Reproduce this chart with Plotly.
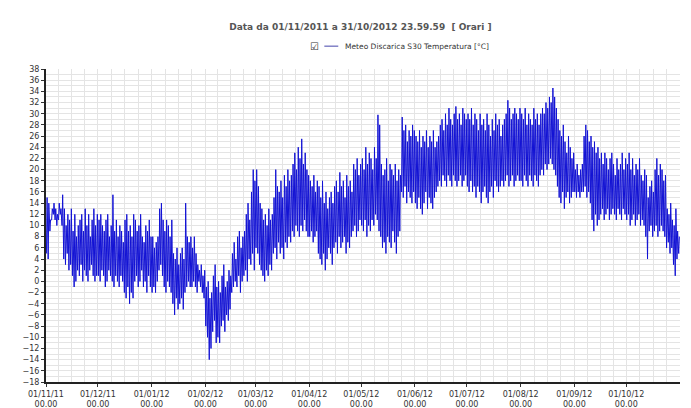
import datetime as dt
import plotly.graph_objects as go

# daily min / max temperature, one month per list
nov11_max = [15, 14, 11, 13, 14, 13, 12, 14, 13, 15.5, 13, 10, 12, 11, 13, 9, 12, 8, 10, 11, 12, 9, 13, 10, 12, 8, 11, 13, 10, 12]
nov11_min = [5, 4, 9, 11, 12, 11, 10, 11, 12, 10, 4, 3, 5, 2, 3, 1, -1, 0, 2, 1, 3, 0, 2, 1, 0, 2, 3, 1, 0, 1]
dec11_max = [11, 12, 10, 9, 11, 12, 8, 10, 15.5, 9, 11, 8, 10, 9, 7, 11, 12, 9, 10, 8, 12, 11, 9, 10, 12, 8, 7, 10, 9, 11, 8]
dec11_min = [1, 0, 2, 1, -1, 0, 2, 1, 0, -1, 1, 0, -1, 1, 0, -2, -3, -1, -4, -2, -3, 0, 1, -1, 0, 2, -1, 0, -2, 1, -1]
jan12_max = [8, 6, 7, 8, 13, 14, 11, 9, 11, 10, 8, 11, 5, 4, 6, 3, 5, 6, 4, 14, 8, 7, 8, 6, 8, 5, 3, 2, 3, 1, 2]
jan12_min = [-2, -1, -2, 0, 2, 3, 1, -1, -2, 0, -1, -2, -4, -6, -3, -5, -4, -3, -5, -2, -1, 0, -1, -1, 0, -1, -2, 0, -1, -2, -3]
feb12_max = [-1, 0, -3, -2, 1, 3, -1, 0, -2, 1, 3, -1, 0, 2, 1, 5, 7, 4, 8, 9, 6, 8, 9, 12, 14, 11, 16, 20, 18]
feb12_min = [-8, -10, -14, -12, -9, -7, -11, -10, -11, -8, -7, -9, -6, -7, -5, -2, -1, 0, -1, 1, -2, 0, 1, 2, 0, 4, 3, 5, 2]
mar12_max = [20, 17, 14, 13, 11, 12, 10, 13, 11, 12, 15, 20, 17, 16, 18, 15, 19, 17, 20, 18, 19, 21, 23, 20, 24, 22, 25.5, 21, 23, 20, 19]
mar12_min = [6, 5, 3, 2, 1, 0, 2, 1, 3, 2, 5, 6, 4, 7, 5, 6, 4, 7, 6, 8, 7, 9, 8, 10, 9, 8, 10, 9, 11, 9, 8]
apr12_max = [18, 17, 19, 16, 18, 17, 15, 18, 14, 16, 13, 15, 16, 14, 17, 18, 16, 19.5, 17, 18, 15, 19, 17, 18, 16, 21, 20, 22, 19, 21]
apr12_min = [8, 9, 7, 8, 9, 5, 4, 3, 5, 2, 4, 6, 5, 3, 6, 7, 5, 8, 6, 7, 8, 5, 7, 6, 8, 9, 10, 8, 9, 11]
may12_max = [22, 20, 24, 21, 23, 22, 20, 24, 22, 29.8, 28, 21, 19, 20, 22, 18, 21, 20, 19, 21, 18, 20, 19, 29.4, 27, 28, 25, 27, 26, 28, 27]
may12_min = [10, 9, 11, 8, 10, 9, 11, 10, 12, 11, 9, 8, 6, 7, 5, 8, 7, 6, 9, 7, 5, 8, 9, 16, 15, 17, 14, 16, 15, 14, 16]
jun12_max = [26, 25, 27, 24, 26, 25, 27, 24, 26, 25, 27, 24, 25, 26, 28, 29, 27, 30, 28, 31, 29, 28, 30, 31.3, 29, 30, 28, 31, 30, 29]
jun12_min = [14, 13, 15, 13, 12, 14, 16, 13, 15, 14, 13, 15, 16, 17, 18, 17, 19, 18, 17, 19, 18, 17, 19, 18, 17, 18, 19, 17, 18, 19]
jul12_max = [30, 29, 31, 28, 30, 29, 27, 30, 28, 29, 27, 30, 28, 26, 29, 27, 30, 28, 29, 26, 28, 29, 30, 32.4, 31, 29, 30, 31, 30, 29, 31]
jul12_min = [17, 16, 18, 16, 17, 15, 17, 16, 14, 16, 17, 15, 14, 16, 17, 15, 18, 17, 16, 17, 18, 17, 18, 19, 17, 18, 19, 17, 18, 19, 18]
aug12_max = [30, 29, 31, 28, 30, 29, 28, 31, 29, 30, 28, 30, 31, 30, 32, 31, 33, 32, 34.6, 33, 31, 29, 27, 26, 28, 25, 23, 26, 24, 22, 23]
aug12_min = [18, 17, 19, 18, 17, 19, 18, 17, 19, 18, 17, 19, 20, 19, 21, 20, 21, 22, 21, 20, 19, 17, 15, 14, 16, 13, 15, 16, 14, 15, 16]
sep12_max = [20, 21, 19, 20, 21, 26, 28, 27, 25, 26, 24, 25, 23, 24, 22, 23, 21, 23, 22, 20, 22, 23, 21, 19, 22, 20, 21, 23, 20, 22]
sep12_min = [16, 15, 16, 15, 16, 16, 17, 15, 16, 14, 11, 9, 12, 10, 11, 12, 13, 11, 12, 13, 11, 12, 13, 12, 11, 13, 12, 11, 13, 12]
oct12_max = [21, 23, 20, 22, 19, 21, 20, 22, 19, 18, 20, 19, 15, 17, 18, 16, 20, 22, 19, 21, 20, 18, 19, 13, 12, 14, 11, 10, 13, 9, 8]
oct12_min = [11, 12, 10, 11, 12, 10, 11, 12, 10, 11, 10, 8, 4, 9, 10, 8, 9, 10, 8, 9, 10, 9, 8, 6, 7, 5, 6, 3, 1, 4, 5]

month_starts = ["2011-11-01", "2011-12-01", "2012-01-01", "2012-02-01", "2012-03-01", "2012-04-01",
                "2012-05-01", "2012-06-01", "2012-07-01", "2012-08-01", "2012-09-01", "2012-10-01"]
month_labels = ["01/11/11", "01/12/11", "01/01/12", "01/02/12", "01/03/12", "01/04/12",
                "01/05/12", "01/06/12", "01/07/12", "01/08/12", "01/09/12", "01/10/12"]
series_name = "Meteo Discarica S30 Temperatura [°C]"

daily_max = (nov11_max + dec11_max + jan12_max + feb12_max + mar12_max + apr12_max +
             may12_max + jun12_max + jul12_max + aug12_max + sep12_max + oct12_max)
daily_min = (nov11_min + dec11_min + jan12_min + feb12_min + mar12_min + apr12_min +
             may12_min + jun12_min + jul12_min + aug12_min + sep12_min + oct12_min)

start = dt.datetime(2011, 11, 1)
t, v = [], []
for i, (lo, hi) in enumerate(zip(daily_min, daily_max)):
    day = start + dt.timedelta(days=i)
    t += [day + dt.timedelta(hours=6), day + dt.timedelta(hours=15)]
    v += [lo, hi]

# quarter-month minor grid
edges = [dt.datetime.fromisoformat(m) for m in month_starts] + [dt.datetime(2012, 11, 1)]
minor_vals = []
for a, b in zip(edges[:-1], edges[1:]):
    for k in range(1, 4):
        minor_vals.append(a + (b - a) * k / 4)

line_color = "#1212d4"

fig = go.Figure()
fig.add_trace(go.Scatter(x=t, y=v, mode="lines", name=series_name,
                         line=dict(color=line_color, width=1), showlegend=False))

# the html page has an 8px body margin, so the figure is 8px smaller each way
fig.update_layout(
    width=683, height=400,
    paper_bgcolor="white", plot_bgcolor="white",
    margin=dict(l=38, r=11, t=61, b=26, autoexpand=False),
    font=dict(family="DejaVu Sans", size=8, color="#333333"),
    title=dict(text="<b>Data da 01/11/2011 a 31/10/2012 23.59.59  [ Orari ]</b>",
               x=0.516, xanchor="center", y=0.9525, yanchor="middle",
               font=dict(size=9, color="#555555")),
    xaxis=dict(
        type="date", range=[start, dt.datetime(2012, 11, 1)],
        tickvals=[dt.datetime.fromisoformat(m) for m in month_starts],
        ticktext=[f"{lab}<br>00.00" for lab in month_labels],
        ticks="outside", ticklen=3, tickcolor="#333333",
        showgrid=True, gridcolor="#e4e4e4", gridwidth=1,
        minor=dict(tickvals=minor_vals, showgrid=True, gridcolor="#e4e4e4"),
        showline=True, linecolor="#222222", linewidth=2, zeroline=False,
    ),
    yaxis=dict(
        range=[-18, 38], tickmode="linear", tick0=-18, dtick=2,
        ticks="outside", ticklen=3, tickcolor="#333333",
        showgrid=True, gridcolor="#e4e4e4",
        minor=dict(dtick=1, showgrid=True, gridcolor="#e4e4e4"),
        showline=True, linecolor="#222222", linewidth=2, zeroline=False,
    ),
)

# legend row: checkbox, line sample, series name
fig.add_annotation(text="☑", xref="paper", yref="paper", x=0.433, y=1.073,
                   xanchor="right", yanchor="middle", showarrow=False,
                   font=dict(size=10, color="#333333"))
fig.add_shape(type="line", xref="paper", yref="paper", x0=0.439, x1=0.461, y0=1.073, y1=1.073,
              line=dict(color="#4444aa", width=1))
fig.add_annotation(text=series_name, xref="paper", yref="paper", x=0.468, y=1.073,
                   xanchor="left", yanchor="middle", showarrow=False,
                   font=dict(size=7.5, color="#333333"))

fig.write_html("out.html")
